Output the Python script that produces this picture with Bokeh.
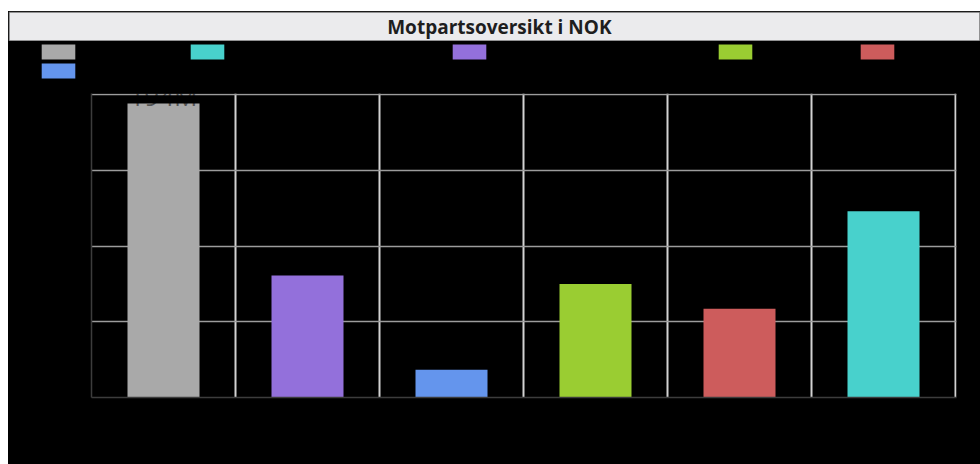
from bokeh.plotting import figure
from bokeh.models import (ColumnDataSource, Range1d, FixedTicker, Legend, LegendItem,
                          Label, NumeralTickFormatter)
from bokeh.layouts import column
from bokeh.embed import file_html
from bokeh.resources import INLINE

# ---- data (values in millions NOK) ----
title_text = "Motpartsoversikt i NOK"
categories = ["Motpart 1", "Motpart 2", "Motpart 3", "Motpart 4", "Motpart 5", "Motpart 6"]
bar_colors = ["#a9a9a9", "#9370db", "#6495ed", "#9acd32", "#cd5c5c", "#48d1cc"]
values_m = [194, 80.5, 18.3, 75, 58.5, 123]
legend_order = [0, 5, 1, 3, 4, 2]
y_ticks_m = [0, 50, 100, 150, 200]
label_index = 0

# legend layout (swatch left edge in page px, row)
legend_left = [41, 190, 452, 718, 860, 41]
legend_row = [0, 0, 0, 0, 0, 1]

W = 972
TOP = 11          # white strip above the title bar
TH = 30           # title bar height
LH = 38           # legend strip height
n = len(values_m)
xs = [i + 0.5 for i in range(n)]
tops = [v * 1e6 for v in values_m]
src = ColumnDataSource(dict(x=xs, top=tops, color=bar_colors, name=categories))


def bare(fig):
    fig.frame_align = False
    fig.xgrid.visible = False
    fig.ygrid.visible = False


# ---- title bar ----
tfig = figure(width=W, height=TH, output_backend="svg", toolbar_location=None,
              x_axis_type=None, y_axis_type=None,
              x_range=Range1d(0, 1), y_range=Range1d(0, 1),
              min_border_top=1, min_border_left=1, min_border_right=1, min_border_bottom=1)
bare(tfig)
tfig.border_fill_color = "#6e6e6e"
tfig.background_fill_color = "#ebebed"
tfig.outline_line_color = None
tfig.add_layout(Label(x=0.505, y=0.5, text=title_text, text_align="center",
                      text_baseline="middle", text_font="Open Sans",
                      text_font_style="bold", text_font_size="19px",
                      text_color="#1e1e1e"))

# ---- legend strip ----
lfig = figure(width=W, height=LH, output_backend="svg", toolbar_location=None,
              x_axis_type=None, y_axis_type=None,
              x_range=Range1d(0, 1), y_range=Range1d(0, 1),
              min_border_top=0, min_border_left=0, min_border_right=0, min_border_bottom=0)
bare(lfig)
lfig.background_fill_color = "black"
lfig.border_fill_color = "black"
lfig.outline_line_color = None
lr = lfig.vbar(x="x", top="top", width=0.5, bottom=0, fill_color="color",
               line_color=None, source=src, visible=False)

GW, GH = 42, 19
for idx, left, row in zip(legend_order, legend_left, legend_row):
    top_y = 1 + row * GH            # top of legend box inside the strip
    vx = left - 8 - round(GW * 0.1)
    vy = LH - top_y - GH
    leg = Legend(items=[LegendItem(label=categories[idx], renderers=[lr], index=idx)],
                 location=(vx, vy), orientation="horizontal",
                 glyph_width=GW, glyph_height=GH, label_width=20, label_height=GH,
                 label_standoff=0, label_text_font_size="8px", label_text_alpha=0,
                 spacing=0, padding=0, margin=0, background_fill_alpha=0,
                 border_line_color=None, click_policy="none")
    lfig.add_layout(leg, "center")

# ---- main chart ----
# frame spans one pixel beyond the outer grid lines so that they are not clipped
frame_top, frame_bottom = 93, 397          # page pixels
frame_left, frame_right = 91, 956
y_end = y_ticks_m[-1] * 1e6 * (frame_bottom - frame_top) / (frame_bottom - frame_top - 1)
x_end = n * (frame_right - frame_left) / (frame_right - frame_left - 1)
PH = 464 - TOP - TH - LH
p = figure(width=W, height=PH, output_backend="svg", toolbar_location=None,
           x_range=Range1d(0, x_end), y_range=Range1d(0, y_end),
           min_border_left=frame_left - 8, min_border_right=980 - frame_right,
           min_border_top=frame_top - (TOP + TH + LH),
           min_border_bottom=464 - frame_bottom)
p.frame_align = False
p.background_fill_color = "black"
p.border_fill_color = "black"
p.outline_line_color = None

p.vbar(x="x", top="top", width=0.5, bottom=0, fill_color="color",
       line_color=None, source=src)

# axes
p.xaxis.ticker = FixedTicker(ticks=list(range(n + 1)))
p.yaxis.ticker = FixedTicker(ticks=[t * 1e6 for t in y_ticks_m])
p.yaxis.formatter = NumeralTickFormatter(format="0a")
for ax in (p.xaxis[0], p.yaxis[0]):
    ax.axis_line_color = "#3c3c3c"
    ax.axis_line_width = 1.5
    ax.major_tick_line_color = None
    ax.minor_tick_line_color = None
    ax.major_label_text_color = None

# grids
p.xgrid.grid_line_color = "#d2d2d2"
p.xgrid.grid_line_width = 2
p.ygrid.grid_line_color = "#9c9c9c"
p.ygrid.grid_line_width = 1.5

# value label on the first bar (upper part vanishes against the black background)
p.add_layout(Label(x=xs[label_index], y=tops[label_index],
                   text=f"{values_m[label_index]:.0f}M",
                   text_align="center", text_baseline="middle",
                   text_font="Open Sans", text_font_size="26px",
                   text_color="black", text_alpha=0.5, y_offset=8))

layout = column(tfig, lfig, p, spacing=0, margin=(TOP, 0, 0, 8),
                styles={"background-color": "black"})
open("out.html", "w").write(file_html(layout, INLINE))
